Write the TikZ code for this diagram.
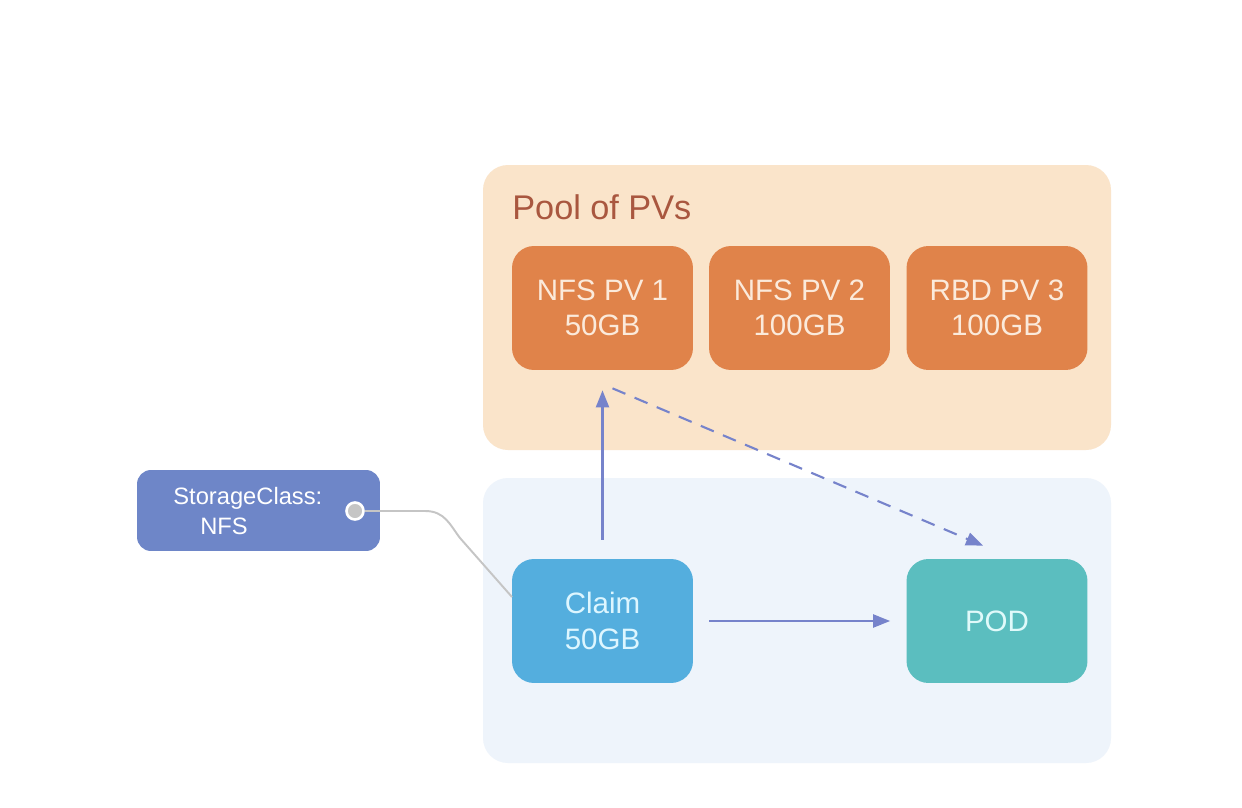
\documentclass[tikz,border=0pt]{standalone}
\usepackage{fontspec}
\setmainfont{Liberation Sans}
\usetikzlibrary{arrows.meta}
\definecolor{pool area}{HTML}{FAE4CA}
\definecolor{claim area}{HTML}{EEF4FB}
\definecolor{pv fill}{HTML}{E0834A}
\definecolor{pv text}{HTML}{FBEADB}
\definecolor{claim fill}{HTML}{54AEDE}
\definecolor{claim text}{HTML}{DDF6FF}
\definecolor{pod fill}{HTML}{5BBEBF}
\definecolor{pod text}{HTML}{E0FAFA}
\definecolor{sc fill}{HTML}{6E86C8}
\definecolor{pool label}{HTML}{A9573F}
\definecolor{arrow blue}{HTML}{7683CB}
\definecolor{link gray}{HTML}{C5C5C5}
\tikzset{box/.style={rounded corners=0.44cm, minimum width=3.62cm, minimum height=2.48cm, align=center, font=\fontsize{16.8}{20.2}\selectfont},
	pv/.style={box, fill=pv fill, text=pv text},
	flow/.style={draw=arrow blue, line width=1.2pt, -{Triangle[length=0.34cm,width=0.26cm]}},
	link/.style={draw=link gray, line width=1.1pt}}

\begin{document}
\begin{tikzpicture}[x=0.02cm,y=-0.02cm]
		\fill[white] (0,0) rectangle (1242,808);
		\useasboundingbox (0,0) rectangle (1242,808);
		\fill[pool area, rounded corners=0.5cm] (483,165) rectangle (1111,450);
		\fill[claim area, rounded corners=0.5cm] (483,478) rectangle (1111,763);
		\node[anchor=base west, inner sep=0pt, text=pool label, font=\fontsize{19.5}{23}\selectfont] (title) at (512,219) {Pool of PVs};
		
		\node[pv] (pv1) at (602.5,308) {NFS PV 1\\50GB};
		\node[pv] (pv2) at (799.5,308) {NFS PV 2\\100GB};
		\node[pv] (pv3) at (997,308) {RBD PV 3\\100GB};
		\node[box, fill=claim fill, text=claim text] (claim) at (602.5,621) {Claim\\50GB};
		\node[box, fill=pod fill, text=pod text] (pod) at (997,621) {POD};
		
		\node[rounded corners=0.28cm, fill=sc fill, minimum width=4.86cm, minimum height=1.62cm] (sc) at (258.5,510.5) {};
		\node[anchor=west, inner sep=0pt, align=left, text=white, font=\fontsize{13.5}{17}\selectfont] (sclabel) at (173,511) {StorageClass:\\\hspace*{0.54cm}NFS};
		\node[circle, fill=link gray, draw=white, line width=1.5pt, minimum size=0.34cm, inner sep=0pt] (dot) at (355,511) {};
		\coordinate (hook) at (512,597);
		\draw[link] (dot.east) -- (425,511) .. controls (445,511) and (450,525) .. (460,538) -- (hook);
		
		\draw[flow, shorten <=0.38cm, shorten >=0.4cm] (claim) -- (pv1);
		\draw[flow, shorten <=0.32cm, shorten >=0.32cm] (claim) -- (pod);
		\draw[flow, dash pattern=on 0.28cm off 0.2cm] ([xshift=0.2cm,yshift=-0.36cm]pv1.south) -- ([xshift=-0.28cm,yshift=0.26cm]pod.north);
		\end{tikzpicture}
\end{document}
